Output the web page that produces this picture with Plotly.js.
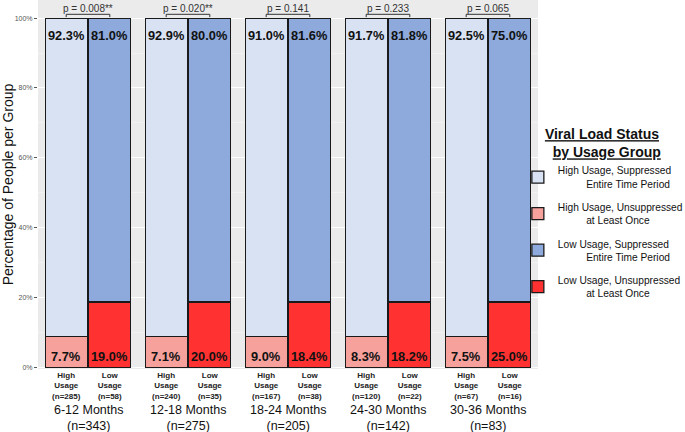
<!DOCTYPE html>
<html>
<head>
<meta charset="utf-8">
<script src="https://cdn.plot.ly/plotly-3.0.1.min.js"></script>
<style>
  html, body { margin: 0; padding: 0; background: #fff; }
  #chart { width: 685px; height: 432px; }
</style>
</head>
<body>
<div id="chart"></div>
<script>
var groups = ["6-12 Months", "12-18 Months", "18-24 Months", "24-30 Months", "30-36 Months"];
var groupN = [343, 275, 205, 142, 83];
var highN = [285, 240, 167, 120, 67];
var lowN = [58, 35, 38, 22, 16];

// printed percentages
var highSupLabel = [92.3, 92.9, 91.0, 91.7, 92.5];
var highUnsupLabel = [7.7, 7.1, 9.0, 8.3, 7.5];
var lowSupLabel = [81.0, 80.0, 81.6, 81.8, 75.0];
var lowUnsupLabel = [19.0, 20.0, 18.4, 18.2, 25.0];

// bottom segment heights as drawn in the figure (same in every group)
var highUnsupDrawn = [8.8, 8.8, 8.8, 8.8, 8.8];
var lowUnsupDrawn = [18.7, 18.7, 18.7, 18.7, 18.7];

var pValues = ["0.008**", "0.020**", "0.141", "0.233", "0.065"];

var pad = "\u00A0\u00A0\u00A0\u00A0\u00A0\u00A0\u00A0\u00A0\u00A0\u00A0";
var legendNames = [
  "High Usage, Suppressed<br>" + pad + "Entire Time Period",
  "High Usage, Unsuppressed<br>" + pad + "at Least Once",
  "Low Usage, Suppressed<br>" + pad + "Entire Time Period",
  "Low Usage, Unsuppressed<br>" + pad + "at Least Once"
];

var colors = ["#D9E2F3", "#F6A19C", "#8EAADC", "#FF3131"];

var OFF = 0.218, BW = 0.42;
var gx = groups.map(function (g, i) { return i + 1; });
var hx = gx.map(function (v) { return v - OFF; });
var lx = gx.map(function (v) { return v + OFF; });

function rest(arr) { return arr.map(function (v) { return 100 - v; }); }

function barTrace(x, y, name, color, rank) {
  return {
    type: "bar", x: x, y: y, name: name, width: BW, legendrank: rank,
    legendgroup: "g" + rank,
    marker: { color: color, line: { color: "#1a1a1a", width: 1.3 } },
    hoverinfo: "skip"
  };
}

var data = [
  barTrace(hx, highUnsupDrawn, legendNames[1], colors[1], 2),
  barTrace(hx, rest(highUnsupDrawn), legendNames[0], colors[0], 1),
  barTrace(lx, lowUnsupDrawn, legendNames[3], colors[3], 4),
  barTrace(lx, rest(lowUnsupDrawn), legendNames[2], colors[2], 3)
];

var tickvals = [], ticktext = [];
gx.forEach(function (g, i) {
  tickvals.push(hx[i], lx[i]);
  ticktext.push("High<br>Usage<br>(n=" + highN[i] + ")", "Low<br>Usage<br>(n=" + lowN[i] + ")");
});

var annotations = [], shapes = [];
var lblFont = { family: "Liberation Sans, Arial, sans-serif", size: 12.8, color: "#111", weight: "bold" };
gx.forEach(function (g, i) {
  annotations.push(
    { x: hx[i], y: 95.1, text: highSupLabel[i].toFixed(1) + "%", showarrow: false, font: lblFont },
    { x: lx[i], y: 95.1, text: lowSupLabel[i].toFixed(1) + "%", showarrow: false, font: lblFont },
    { x: hx[i], y: 3.2, text: highUnsupLabel[i].toFixed(1) + "%", showarrow: false, font: lblFont },
    { x: lx[i], y: 3.2, text: lowUnsupLabel[i].toFixed(1) + "%", showarrow: false, font: lblFont },
    { x: g, y: 101.1, yanchor: "bottom", text: "p = " + pValues[i], showarrow: false,
      font: { family: "Liberation Sans, Arial, sans-serif", size: 10, color: "#333" }, yshift: -2 },
    { x: g, xref: "x", y: -0.088, yref: "paper", yanchor: "top", showarrow: false,
      text: groups[i] + "<br>(n=" + groupN[i] + ")",
      font: { family: "Liberation Sans, Arial, sans-serif", size: 12.5, color: "#111" } }
  );
  shapes.push({
    type: "path", xref: "x", yref: "y",
    path: "M" + hx[i] + ",100.3 L" + hx[i] + ",101.1 L" + lx[i] + ",101.1 L" + lx[i] + ",100.3",
    line: { color: "#333", width: 1 }
  });
});

var layout = {
  width: 685, height: 432,
  margin: { t: 0, r: 147, b: 63, l: 38, autoexpand: false },
  paper_bgcolor: "#fff",
  plot_bgcolor: "#EBEBEB",
  barmode: "stack",
  font: { family: "Liberation Sans, Arial, sans-serif", color: "#111" },
  showlegend: true,
  legend: {
    xref: "container", yref: "container",
    x: 0.756, xanchor: "left", y: 0.72, yanchor: "top",
    traceorder: "grouped", tracegroupgap: 7,
    font: { size: 10.2, color: "#111" },
    title: { text: "<b><u>Viral Load Status</u></b><br><b>\u00A0\u00A0<u>by Usage Group</u></b>", side: "top center",
             font: { size: 14, color: "#111" } },
    bgcolor: "rgba(0,0,0,0)"
  },
  xaxis: {
    range: [0.5, 5.5], tickvals: tickvals, ticktext: ticktext,
    showgrid: false, zeroline: false, ticks: "", fixedrange: true,
    tickfont: { size: 8, color: "#222", weight: "bold" }
  },
  yaxis: {
    range: [-0.5, 105.2], dtick: 20, ticksuffix: "%",
    showgrid: true, gridcolor: "#fff", gridwidth: 1,
    minor: { dtick: 10, showgrid: true, gridcolor: "#f7f7f7", gridwidth: 0.5 },
    zeroline: false, ticks: "outside", ticklen: 3, tickcolor: "#555",
    tickfont: { size: 7, color: "#555" },
    title: { text: "Percentage of People per Group", font: { size: 14, color: "#111" }, standoff: 6 },
    fixedrange: true
  },
  annotations: annotations,
  shapes: shapes,
  hovermode: false
};

Plotly.newPlot("chart", data, layout, { displayModeBar: false, staticPlot: true });
</script>
</body>
</html>
